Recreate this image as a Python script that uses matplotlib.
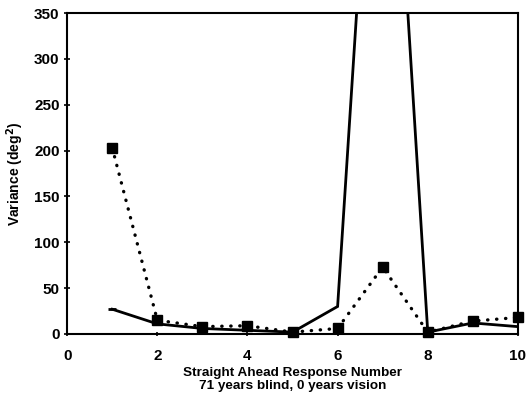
import matplotlib
matplotlib.use("Agg")
import matplotlib.pyplot as plt

plt.rcParams['font.family'] = ['Liberation Sans', 'DejaVu Sans']
plt.rcParams['font.weight'] = 'bold'

# response number (x) and variance values (deg^2)
responses = [1, 2, 3, 4, 5, 6, 7, 8, 9, 10]
variance_dotted = [203, 15, 8, 9, 2, 6, 73, 2, 14, 18]
variance_solid = [27, 11, 6, 4, 2, 30, 790, 2, 12, 8]

x_ticks = [0, 2, 4, 6, 8, 10]
y_ticks = [0, 50, 100, 150, 200, 250, 300, 350]

fig = plt.figure(figsize=(5.29, 3.99), dpi=100)
ax = fig.add_axes([0.127, 0.163, 0.852, 0.804])

ax.plot(responses, variance_solid, color='black', linewidth=2.0,
        solid_joinstyle='miter')
# little dash at the start of the solid line
ax.plot(responses[:1], variance_solid[:1], marker='_', markersize=6,
        markeredgewidth=2.0, color='black', linestyle='none')
ax.plot(responses, variance_dotted, color='black', linewidth=2.4,
        linestyle=(0, (0.1, 2.6)), dash_capstyle='round', marker='s',
        markersize=7.5, markerfacecolor='black', markeredgecolor='black',
        clip_on=False)

ax.set_xlim(0, 10)
ax.set_ylim(0, 350)
ax.set_xticks(x_ticks)
ax.set_yticks(y_ticks)
ax.tick_params(axis='y', direction='inout', length=5, width=1.2, labelsize=11, pad=3)
ax.tick_params(axis='x', direction='inout', length=3, width=1.2, labelsize=11, pad=9)
for lab in ax.get_xticklabels() + ax.get_yticklabels():
    lab.set_fontweight('bold')

for side in ['left', 'right', 'top', 'bottom']:
    ax.spines[side].set_linewidth(1.5)

ax.set_xlabel("Straight Ahead Response Number\n71 years blind, 0 years vision",
              fontsize=9.7, fontweight='bold', labelpad=3, linespacing=1.1)
ax.set_ylabel("Variance (deg$^\\mathbf{2}$)", fontsize=10, fontweight='bold', labelpad=6)

fig.savefig("out.png", dpi=100)
